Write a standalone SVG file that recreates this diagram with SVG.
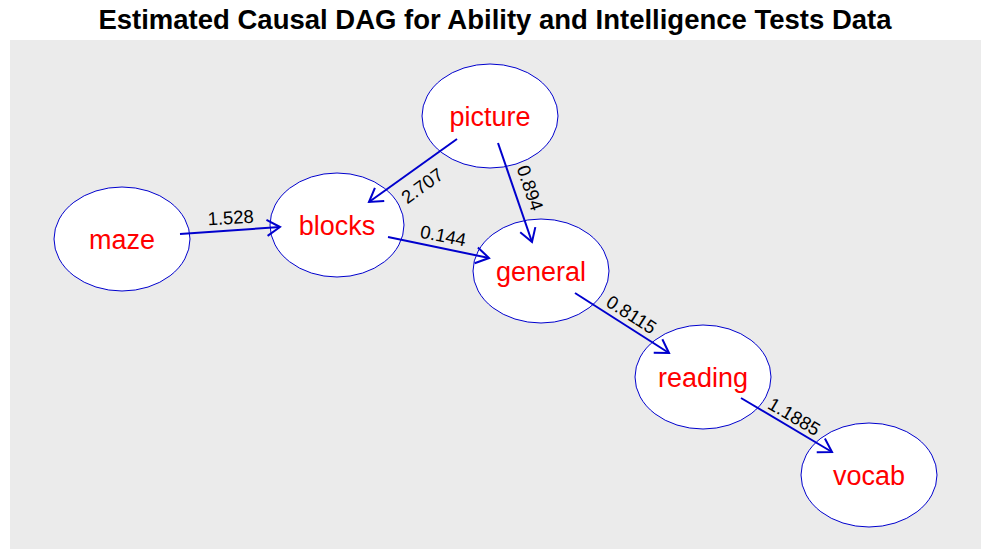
<svg xmlns="http://www.w3.org/2000/svg" width="989" height="560" viewBox="0 0 989 560">
<defs>
<style>
.node ellipse{fill:#fff;stroke:#0000CD;stroke-width:1}
.node text{font-family:"Liberation Sans",Arial,sans-serif;font-size:27px;fill:#FF0000;text-anchor:middle}
.edge line{stroke:#0000CD;stroke-width:2;marker-end:url(#arr)}
.lbl{font-family:"Liberation Sans",Arial,sans-serif;font-size:18.5px;fill:#000;text-anchor:middle}
</style>
<marker id="arr" markerUnits="userSpaceOnUse" viewBox="-16 -10 18 20" refX="0" refY="0" markerWidth="18" markerHeight="20" orient="auto">
<path d="M-13,-8 L0,0 L-13,8" fill="none" stroke="#0000CD" stroke-width="2"/>
</marker>
</defs>
<rect width="989" height="560" fill="#fff"/>
<rect x="10" y="40" width="971" height="509" fill="#EBEBEB"/>
<text x="495" y="29" font-family="'Liberation Sans',Arial,sans-serif" font-size="27.5" font-weight="bold" text-anchor="middle">Estimated Causal DAG for Ability and Intelligence Tests Data</text>
<g id="n-picture" class="node"><ellipse cx="490" cy="116" rx="68" ry="52"/><text x="490" y="126">picture</text></g>
<g id="n-maze" class="node"><ellipse cx="122" cy="239" rx="68" ry="52"/><text x="122" y="249">maze</text></g>
<g id="n-blocks" class="node"><ellipse cx="337" cy="225" rx="67" ry="52"/><text x="337" y="235">blocks</text></g>
<g id="n-general" class="node"><ellipse cx="541" cy="271" rx="68" ry="52"/><text x="541" y="281">general</text></g>
<g id="n-reading" class="node"><ellipse cx="703" cy="377" rx="68" ry="52"/><text x="703" y="387">reading</text></g>
<g id="n-vocab" class="node"><ellipse cx="869" cy="475" rx="68" ry="52"/><text x="869" y="485">vocab</text></g>
<g id="edges" class="edge">
<line x1="180" y1="234" x2="280" y2="227"/>
<line x1="457" y1="139" x2="369" y2="202"/>
<line x1="388" y1="237" x2="489" y2="258"/>
<line x1="498" y1="143" x2="532" y2="242"/>
<line x1="575" y1="293" x2="669" y2="353"/>
<line x1="741" y1="398" x2="832" y2="452"/>
</g>
<g id="labels">
<text class="lbl" transform="translate(231,224) rotate(-3)">1.528</text>
<text class="lbl" transform="translate(426,191) rotate(-36)">2.707</text>
<text class="lbl" transform="translate(442,242) rotate(11.5)">0.144</text>
<text class="lbl" transform="translate(524,190) rotate(71)">0.894</text>
<text class="lbl" transform="translate(628,320) rotate(32.5)">0.8115</text>
<text class="lbl" transform="translate(791,422) rotate(30.5)">1.1885</text>
</g>
</svg>
